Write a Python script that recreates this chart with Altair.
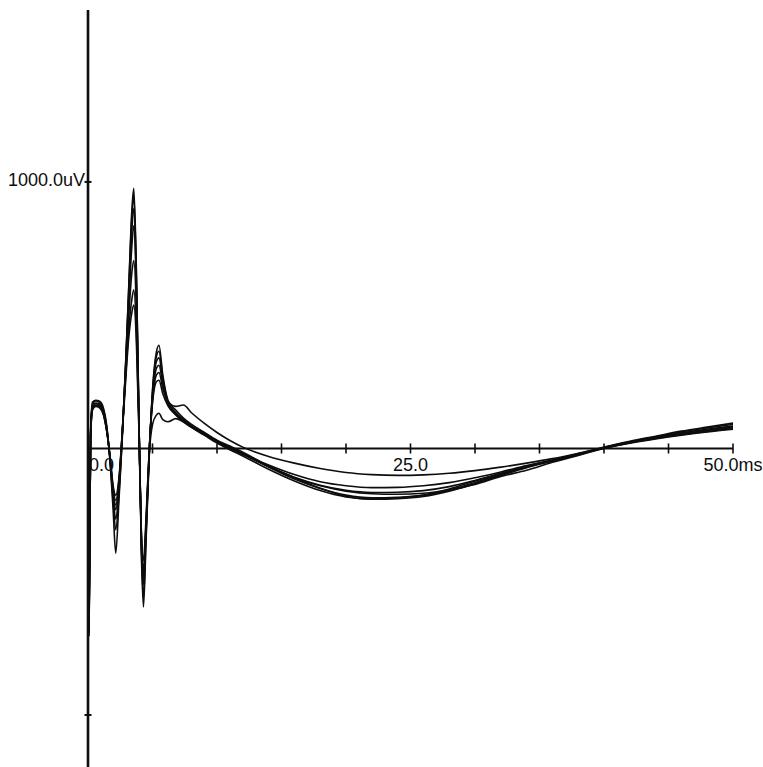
import altair as alt
import pandas as pd

# Sample times (ms) shared by every sweep
time_ms = [0, 0.08, 0.2, 0.35, 0.6, 0.9, 1.2, 1.45, 1.7, 1.95, 2.15, 2.4, 2.65, 2.9,
           3.15, 3.4, 3.55, 3.75, 3.95, 4.15, 4.3, 4.5, 4.75, 5.0, 5.3, 5.5, 5.8, 6.2,
           6.8, 7.4, 8.0, 9, 10, 11, 12, 14, 16, 18, 20, 22, 24, 26, 28, 30, 32, 34,
           36, 38, 40, 42, 44, 46, 48, 50]

# Overlaid evoked-response sweeps (uV)
sweep_1 = [0, -701, 68, 174, 181, 177, 151, 87, -44, -232, -393, -194, 31, 294,
           594, 894, 976, 669, 106, -419, -595, -344, -25, 219, 361, 387, 275, 181,
           144, 114, 91, 61, 31, 9, -14, -66, -111, -149, -179, -190, -186, -175, -152, -122,
           -93, -66, -44, -21, 5, 27, 46, 65, 80, 95]
sweep_2 = [0, -690, 60, 165, 178, 172, 145, 80, -40, -200, -305, -170, 40, 300,
           590, 870, 950, 650, 110, -400, -560, -330, -20, 210, 345, 365, 265, 175,
           135, 108, 86, 58, 28, 5, -18, -70, -115, -150, -175, -185, -183, -176, -156, -128,
           -98, -70, -46, -22, 3, 25, 44, 62, 77, 90]
sweep_3 = [0, -680, 55, 160, 170, 166, 140, 75, -35, -180, -265, -150, 45, 290,
           560, 820, 900, 620, 100, -380, -510, -310, -15, 200, 325, 340, 255, 170,
           130, 104, 82, 55, 26, 2, -20, -62, -98, -125, -140, -147, -146, -140, -128, -110,
           -88, -64, -43, -20, 4, 24, 42, 58, 72, 84]
sweep_4 = [0, -670, 50, 158, 168, 162, 136, 72, -30, -165, -230, -135, 50, 280,
           530, 760, 835, 590, 95, -360, -475, -290, -10, 190, 300, 312, 240, 165,
           128, 100, 80, 52, 24, 0, -22, -68, -108, -138, -157, -165, -164, -158, -143, -120,
           -94, -68, -45, -21, 2, 22, 40, 56, 70, 81]
sweep_5 = [0, -660, 45, 150, 163, 158, 130, 68, -28, -150, -195, -120, 55, 270,
           490, 660, 705, 520, 90, -350, -455, -280, -5, 180, 275, 285, 225, 175,
           158, 163, 135, 95, 60, 30, 5, -30, -55, -75, -90, -98, -101, -99, -93, -83,
           -70, -55, -38, -18, 3, 22, 38, 52, 64, 74]
sweep_6 = [0, -650, 40, 145, 158, 152, 125, 65, -25, -140, -175, -110, 58, 255,
           440, 560, 595, 440, 80, -330, -420, -260, 0, 170, 250, 256, 205, 160,
           126, 102, 80, 50, 20, -5, -28, -78, -122, -158, -182, -190, -188, -180, -160, -132,
           -102, -72, -48, -24, 1, 20, 36, 50, 62, 72]
sweep_7 = [0, -640, 40, 148, 160, 155, 128, 66, -32, -160, -212, -130, 50, 240,
           410, 510, 538, 400, 60, -370, -494, -300, -20, 90, 125, 132, 108, 100,
           112, 100, 84, 55, 25, 0, -22, -68, -110, -140, -160, -170, -172, -168, -155, -135,
           -105, -82, -52, -26, 0, 22, 40, 56, 68, 78]

sweeps = [sweep_1, sweep_2, sweep_3, sweep_4, sweep_5, sweep_6, sweep_7]

# Axis furniture
x_tick_ms = [5, 10, 15, 20, 25, 30, 35, 40, 45, 50]
y_tick_uv = [1000, -1000]
x_label_ms = [25, 50]
x_label_text = ["25.0", "50.0ms"]
origin_label = "0.0"
y_label_text = "1000.0uV"

rows = []
for i, vals in enumerate(sweeps, 1):
    for t, v in zip(time_ms, vals):
        rows.append({"sweep": f"sweep {i}", "t": t, "uV": v})
df = pd.DataFrame(rows)

X_DOMAIN = [0, 50]
Y_DOMAIN = [-1195, 1645]
X_TICK_HALF = 19      # uV, half length of the time-axis ticks
Y_TICK_HALF = 0.27    # ms, half length of the voltage-axis ticks

x_scale = alt.Scale(domain=X_DOMAIN, nice=False, zero=False)
y_scale = alt.Scale(domain=Y_DOMAIN, nice=False, zero=False)

FONT = "Liberation Sans Narrow, Arial Narrow, Liberation Sans, Arial, sans-serif"
FONT_SIZE = 18
INK = "#0d0d0d"


def xq(field):
    return alt.X(field, type="quantitative", scale=x_scale, axis=None)


def yq(field):
    return alt.Y(field, type="quantitative", scale=y_scale, axis=None)


lines = alt.Chart(df).mark_line(color=INK, strokeWidth=1.6, interpolate="monotone").encode(
    x=xq("t"), y=yq("uV"), detail="sweep:N"
)

# Horizontal (time) axis at 0 uV
x_axis_df = pd.DataFrame({"a": [X_DOMAIN[0]], "b": [X_DOMAIN[1]], "zero": [0]})
x_axis_line = alt.Chart(x_axis_df).mark_rule(color=INK, strokeWidth=2).encode(
    x=xq("a"), x2="b:Q", y=yq("zero")
)

# Vertical (voltage) axis at 0 ms
y_axis_df = pd.DataFrame({"a": [Y_DOMAIN[0]], "b": [Y_DOMAIN[1]], "zero": [0]})
y_axis_line = alt.Chart(y_axis_df).mark_rule(color=INK, strokeWidth=2.6).encode(
    y=yq("a"), y2="b:Q", x=xq("zero")
)

x_tick_df = pd.DataFrame({"t": x_tick_ms})
x_tick_df["lo"] = -X_TICK_HALF
x_tick_df["hi"] = X_TICK_HALF
x_ticks = alt.Chart(x_tick_df).mark_rule(color=INK, strokeWidth=1.6).encode(
    x=xq("t"), y=yq("lo"), y2="hi:Q"
)

y_tick_df = pd.DataFrame({"uV": y_tick_uv})
y_tick_df["lo"] = -Y_TICK_HALF
y_tick_df["hi"] = Y_TICK_HALF
y_ticks = alt.Chart(y_tick_df).mark_rule(color=INK, strokeWidth=2).encode(
    y=yq("uV"), x=xq("lo"), x2="hi:Q"
)

x_label_df = pd.DataFrame({"t": x_label_ms, "label": x_label_text, "zero": 0})
x_labels = alt.Chart(x_label_df).mark_text(
    font=FONT, fontSize=FONT_SIZE, color=INK, align="center", baseline="alphabetic", dy=23
).encode(x=xq("t"), y=yq("zero"), text="label:N")

origin_df = pd.DataFrame({"t": [0], "label": [origin_label], "zero": [0]})
origin_text = alt.Chart(origin_df).mark_text(
    font=FONT, fontSize=FONT_SIZE, color=INK, align="left", baseline="alphabetic", dx=1, dy=23
).encode(x=xq("t"), y=yq("zero"), text="label:N")

y_label_df = pd.DataFrame({"uV": [1000], "label": [y_label_text], "zero": [0]})
y_label = alt.Chart(y_label_df).mark_text(
    font=FONT, fontSize=FONT_SIZE, color=INK, align="right", baseline="alphabetic", dx=-3, dy=4
).encode(y=yq("uV"), x=xq("zero"), text="label:N")

chart = alt.layer(
    x_labels, origin_text, y_label, lines, x_axis_line, y_axis_line, x_ticks, y_ticks
).properties(
    width=645,
    height=757,
    padding={"left": 88, "top": 10, "right": 30, "bottom": 0},
    autosize=alt.AutoSizeParams(type="none"),
    background="white",
).configure_view(stroke=None)

chart.save("out.html", embed_options={"renderer": "svg", "actions": False})
